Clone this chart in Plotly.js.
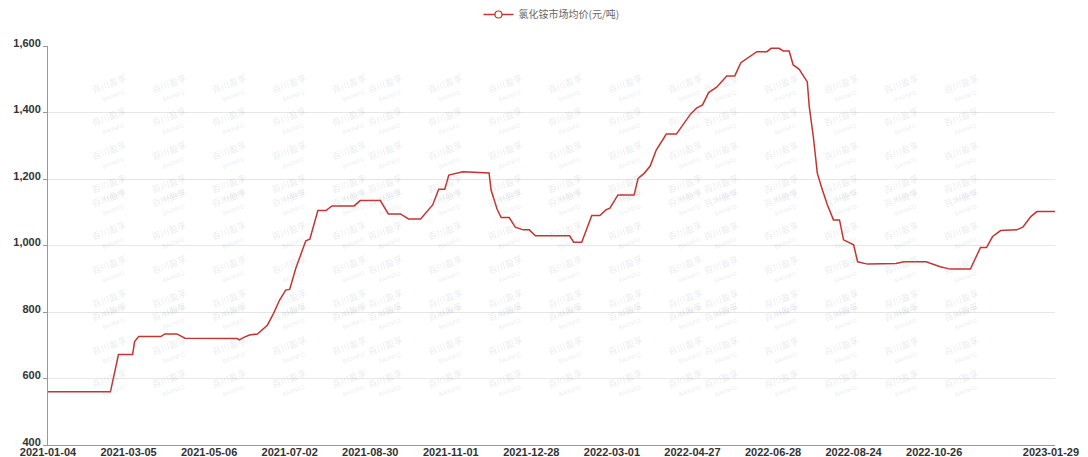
<!DOCTYPE html>
<html>
<head>
<meta charset="utf-8">
<script src="https://cdn.plot.ly/plotly-3.0.1.min.js"></script>
<style>
  html, body { margin: 0; padding: 0; background: #ffffff; }
  #chart { width: 1088px; height: 457px; }
</style>
</head>
<body>
<div id="chart"></div>
<script>
// Series name
const seriesName = "氯化铵市场均价(元/吨)";

// Trading-day index (category position) and average market price (元/吨)
const dayIndex = [0, 31, 35, 42, 43, 45, 56, 58, 64, 68, 94, 95, 97, 100, 104, 109, 112, 115, 118, 120,
  123, 127, 128, 130, 134, 138, 141, 152, 155, 165, 169, 175, 179, 185, 188, 191, 194, 197, 199, 206,
  219, 220, 223, 225, 229, 232, 236, 239, 242, 259, 261, 265, 270, 274, 277, 279, 283, 291, 293, 296,
  299, 302, 307, 312, 319, 322, 325, 328, 332, 337, 341, 344, 352, 357, 359, 363, 365, 368, 370, 373,
  377, 378, 380, 382, 384, 387, 390, 393, 395, 400, 402, 407, 421, 425, 436, 443, 448, 458, 463, 466,
  469, 473, 481, 484, 488, 491, 500];

const price = [560, 560, 672, 672, 711, 726, 726, 734, 734, 721, 720, 716, 723, 731, 734, 761, 796, 836, 866, 868,
  931, 1001, 1014, 1019, 1105, 1105, 1119, 1119, 1135, 1135, 1095, 1095, 1080, 1080, 1102, 1122, 1169, 1169, 1212, 1222,
  1218, 1167, 1109, 1084, 1084, 1055, 1047, 1047, 1029, 1029, 1010, 1010, 1090, 1090, 1107, 1112, 1152, 1152, 1202, 1217,
  1239, 1287, 1335, 1335, 1395, 1413, 1423, 1460, 1476, 1510, 1510, 1550, 1583, 1583, 1593, 1593, 1585, 1585, 1543, 1530,
  1492, 1417, 1327, 1217, 1177, 1122, 1077, 1077, 1017, 1002, 951, 944, 946, 951, 951, 936, 929, 929, 994, 994,
  1027, 1045, 1047, 1055, 1087, 1102, 1102];

// X-axis tick labels (dates) and their category positions
const tickLabels = ["2021-01-04", "2021-03-05", "2021-05-06", "2021-07-02", "2021-08-30", "2021-11-01",
  "2021-12-28", "2022-03-01", "2022-04-27", "2022-06-28", "2022-08-24", "2022-10-26", "2023-01-29"];
const tickIndex = [0, 40, 80, 120, 160, 200, 240, 280, 320, 360, 400, 440, 498];

// Y-axis ticks
const yTicks = [400, 600, 800, 1000, 1200, 1400, 1600];

// Watermark text
const watermarkText = "百川盈孚<br><span style='font-size:6px'>BAIINFO</span>";

const lineColor = "#c23531";

const traces = [
  {
    x: dayIndex, y: price, type: "scatter", mode: "lines",
    line: { color: lineColor, width: 1.5 },
    name: seriesName, showlegend: false, hoverinfo: "y"
  },
  {
    x: [null], y: [null], type: "scatter", mode: "lines+markers",
    line: { color: lineColor, width: 1.5 },
    marker: { symbol: "circle", size: 7, color: "#ffffff", line: { color: lineColor, width: 1.2 } },
    name: seriesName, showlegend: true
  }
];

// Faint repeating watermark (background decoration), kept inside the plot area
const L = 48, T = 46, W = 1007, H = 399;
const annotations = [];
for (let r = 0; r < 14; r++) {
  const py = 2 + r * 33.5;
  if (py < 40 || py > 425) continue;
  for (let c = 0; c < 19; c++) {
    const px = 27 + c * 60;
    if (px < 80 || px > 1030) continue;
    annotations.push({
      xref: "paper", yref: "paper",
      x: (px - L) / W, y: (T + H - py) / H,
      text: watermarkText, showarrow: false, textangle: -20,
      font: { size: 9, color: "rgba(150,160,180,0.22)", family: "Noto Sans CJK SC, sans-serif" },
      align: "center"
    });
  }
}

const layout = {
  width: 1088, height: 457,
  paper_bgcolor: "#ffffff", plot_bgcolor: "rgba(0,0,0,0)",
  margin: { l: 48, r: 33, t: 46, b: 12, autoexpand: false },
  font: { family: "Liberation Sans, Arial, sans-serif", size: 11, color: "#333333" },
  showlegend: true,
  legend: {
    orientation: "h", x: 0.5, xanchor: "center", y: 1, yref: "container", yanchor: "top",
    font: { size: 10, color: "#666666", family: "Noto Sans CJK SC, sans-serif" },
    bgcolor: "rgba(0,0,0,0)", itemwidth: 30
  },
  annotations: annotations,
  xaxis: {
    type: "linear", range: [0, 500],
    tickmode: "array", tickvals: tickIndex, ticktext: tickLabels,
    showgrid: false, zeroline: false,
    showline: true, linecolor: "#999999", linewidth: 1,
    ticks: "", ticklen: 0, ticklabelstandoff: -3,
    tickfont: { size: 11, color: "#333333", family: "Liberation Sans, Arial, sans-serif", weight: "bold" },
    automargin: false, fixedrange: true
  },
  yaxis: {
    range: [400, 1600], tickmode: "array", tickvals: yTicks, tickformat: ",d",
    showgrid: true, gridcolor: "#e6e6e6", gridwidth: 1,
    zeroline: false, showline: true, linecolor: "#999999", linewidth: 1,
    ticks: "outside", ticklen: 4, tickcolor: "#999999", ticklabelshift: -3,
    tickfont: { size: 11, color: "#333333", family: "Liberation Sans, Arial, sans-serif", weight: "bold" },
    automargin: false, fixedrange: true
  }
};

Plotly.newPlot("chart", traces, layout, { displayModeBar: false, staticPlot: true });
</script>
</body>
</html>
